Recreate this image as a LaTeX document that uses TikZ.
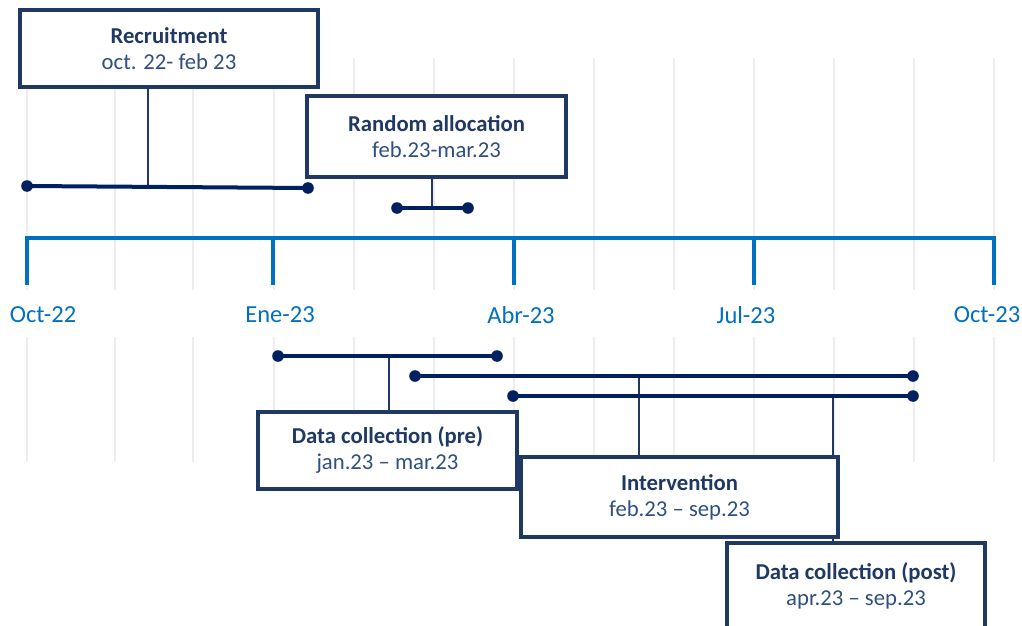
\documentclass[tikz,border=0pt]{standalone}
\usepackage{fontspec}
\setmainfont{Carlito}
\usetikzlibrary{backgrounds}
\definecolor{navy}{HTML}{002060}
\definecolor{boxline}{HTML}{203864}
\definecolor{titlec}{HTML}{1F3864}
\definecolor{subc}{HTML}{2F5080}
\definecolor{axisc}{HTML}{0070C0}
\definecolor{gridc}{HTML}{EDEDF0}
\tikzset{
  gridline/.style={gridc, line width=2pt},
  axisline/.style={axisc, line width=3.5pt},
  axlab/.style={text=axisc, font=\fontsize{24.5}{28}\selectfont, inner sep=0pt},
  phase/.style={draw=boxline, line width=3.2pt, fill=white, align=center, inner sep=0pt,
    font=\fontsize{22.7}{26}\selectfont},
  bar/.style={navy, line width=4pt},
  link/.style={boxline, line width=1.3pt},
  dotc/.style={fill=navy}
}
\newcommand{\phasetext}[2]{{\color{titlec}\bfseries #1}\\{\color{subc}#2}}
\begin{document}
\begin{tikzpicture}[x=1pt,y=-1pt]
\useasboundingbox (0,0) rectangle (1022,626);
% axis
\coordinate (t0) at (27,238); \coordinate (t1) at (273,238); \coordinate (t2) at (514,238);
\coordinate (t3) at (754,238); \coordinate (t4) at (994,238);
\draw[axisline] ([yshift=-47pt]t0) -- (t0) -- (t4) -- ([yshift=-47pt]t4);
\foreach \t in {t1,t2,t3}{ \draw[axisline] (\t) -- ([yshift=-47pt]\t); }
\node[axlab] (l0) at (43,315) {Oct-22};
\node[axlab] (l1) at (280,315) {Ene-23};
\node[axlab] (l2) at (521,315) {Abr-23};
\node[axlab] (l3) at (746,315) {Jul-23};
\node[axlab] (l4) at (987,315) {Oct-23};
% bars
\coordinate (rA) at (27,186); \coordinate (rB) at (308,188);
\coordinate (aA) at (397,208); \coordinate (aB) at (468,208);
\coordinate (pA) at (278,356); \coordinate (pB) at (497,356);
\coordinate (iA) at (415,376); \coordinate (iB) at (913,376);
\coordinate (dA) at (513,396); \coordinate (dB) at (913,396);
\foreach \a/\b in {rA/rB,aA/aB,pA/pB,iA/iB,dA/dB}{
  \draw[bar] (\a) -- (\b);
  \fill[dotc] (\a) circle[radius=5.8pt];
  \fill[dotc] (\b) circle[radius=5.8pt];
}
% junctions
\coordinate (jr) at (148,186.5);
\coordinate (ja) at (432,208);
\coordinate (jp) at (389,356);
\coordinate (ji) at (639,376);
\coordinate (jd) at (833,396);
% boxes
\node[phase, minimum width=298pt, minimum height=77pt] (rec) at (169,48.5)
  {\phasetext{Recruitment}{oct. 22- feb 23}};
\node[phase, minimum width=259pt, minimum height=81pt] (ran) at (436.5,136.5)
  {\phasetext{Random allocation}{feb.23-mar.23}};
\node[phase, minimum width=259pt, minimum height=77pt] (pre) at (387.5,450.5)
  {\phasetext{Data collection (pre)}{jan.23 – mar.23}};
\node[phase, minimum width=317pt, minimum height=80pt] (int) at (679.5,497)
  {\phasetext{Intervention}{feb.23 – sep.23}};
\node[phase, minimum width=258pt, minimum height=86pt] (post) at (856,586)
  {\phasetext{Data collection (post)}{apr.23 – sep.23}};
% links and grid behind
\begin{scope}[on background layer]
\fill[white] (0,0) rectangle (1022,626);
\foreach \gx in {27,115,193,274,354,434,514,594,674,754,834,914,994}{
  \draw[gridline] (\gx,58) -- (\gx,290);
  \draw[gridline] (\gx,337) -- (\gx,462);
}
\draw[link] (jr) -- (jr |- rec.south);
\draw[link] (ja) -- (ja |- ran.south);
\draw[link] (jp) -- (jp |- pre.north);
\draw[link] (ji) -- (ji |- int.north);
\draw[link] (jd) -- (jd |- post.north);
\end{scope}
\end{tikzpicture}
\end{document}
